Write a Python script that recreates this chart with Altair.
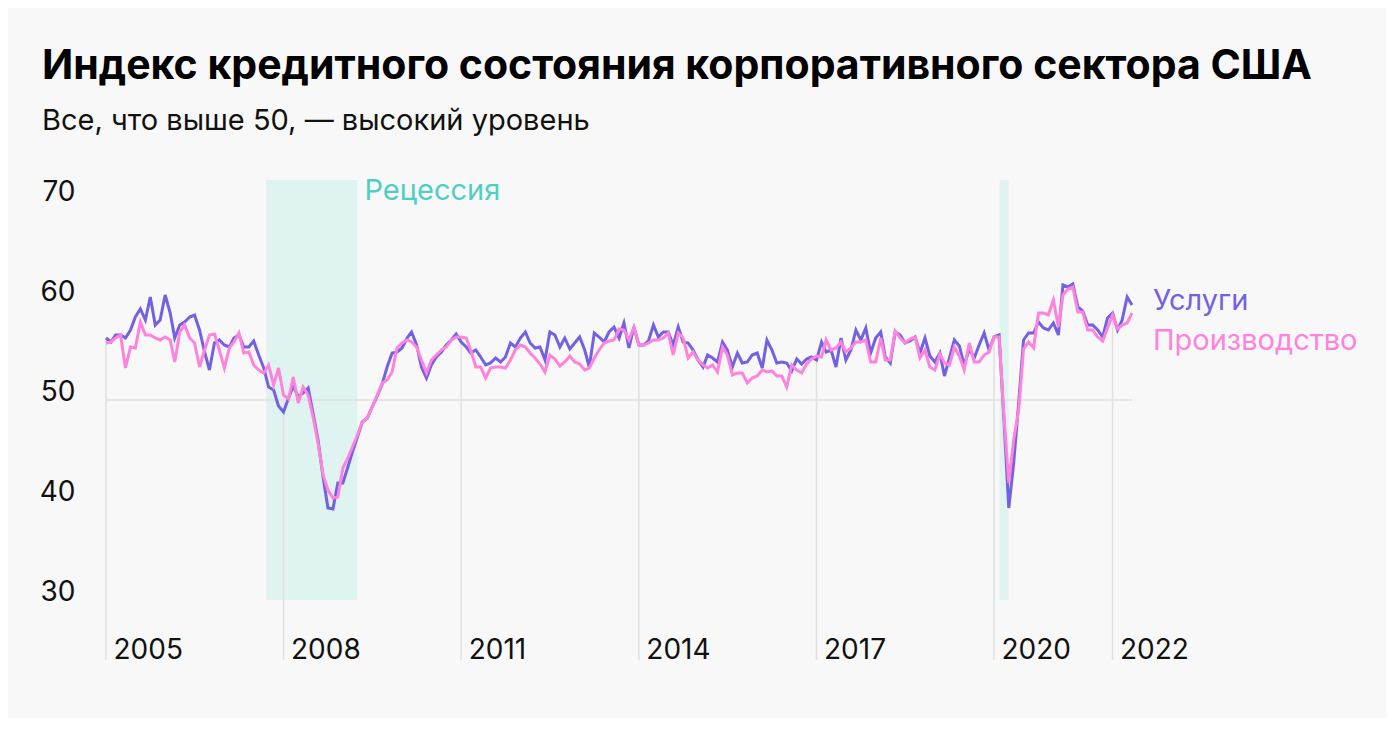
import altair as alt
import pandas as pd

# ---- data (monthly, Jan 2005 .. May 2022) ----
services = [
    56.2, 55.8, 56.5, 56.5, 56.2, 57.0, 58.3, 59.1, 58.0, 60.3, 57.5, 58.0,  # 2005
    60.5, 58.7, 56.2, 57.5, 57.8, 58.3, 58.5, 57.0, 54.8, 53.0, 55.7, 56.0,  # 2006
    55.5, 55.3, 56.2, 56.5, 55.3, 55.3, 55.9, 54.5, 53.2, 51.3, 51.0, 49.4,  # 2007
    48.8, 50.2, 51.4, 50.3, 50.7, 51.2, 48.7, 46.0, 42.3, 39.2, 39.1, 41.7,  # 2008
    41.7, 43.3, 44.8, 46.3, 47.8, 48.2, 49.3, 50.4, 51.6, 53.3, 54.7, 54.8,  # 2009
    55.2, 56.2, 56.8, 55.5, 53.3, 52.2, 53.5, 54.3, 54.8, 55.5, 56.0, 56.6,  # 2010
    55.8, 55.3, 54.7, 55.0, 54.3, 53.5, 53.7, 54.2, 53.8, 54.3, 55.7, 55.3,  # 2011
    56.2, 56.8, 55.7, 55.2, 55.3, 54.0, 56.8, 56.5, 55.3, 56.2, 55.1, 55.7,  # 2012
    56.3, 55.0, 53.3, 56.7, 56.3, 55.8, 56.8, 57.3, 56.2, 57.7, 55.2, 57.3,  # 2013
    55.5, 55.5, 55.9, 57.5, 56.3, 56.8, 56.8, 55.5, 57.3, 55.8, 55.7, 55.0,  # 2014
    54.0, 53.3, 54.5, 54.2, 53.8, 55.8, 55.0, 53.3, 54.7, 53.7, 53.8, 54.5,  # 2015
    54.7, 53.2, 56.0, 55.0, 53.7, 53.8, 53.7, 52.9, 54.1, 53.6, 54.1, 54.3,  # 2016
    54.0, 55.8, 54.8, 55.0, 53.3, 56.2, 54.0, 55.0, 57.0, 56.0, 57.2, 54.7,  # 2017
    56.2, 56.8, 54.3, 53.7, 56.8, 56.5, 55.7, 55.9, 56.3, 54.7, 56.2, 54.4,  # 2018
    53.8, 54.7, 52.4, 54.2, 56.0, 55.4, 53.5, 55.1, 54.2, 55.5, 56.7, 55.0,  # 2019
    56.3, 56.5, 48.3, 39.2, 43.7, 49.7, 56.0, 56.7, 56.7, 57.8, 57.2, 57.0,  # 2020
    57.7, 56.5, 61.5, 61.3, 61.6, 59.3, 58.9, 57.5, 57.5, 57.0, 56.3, 58.2,  # 2021
    58.7, 57.0, 58.0, 60.3, 59.5,                                            # 2022
]
manufacturing = [
    55.7, 55.8, 56.2, 56.5, 53.2, 55.3, 55.2, 57.8, 56.5, 56.5, 56.2, 56.0,  # 2005
    56.3, 56.0, 53.8, 56.8, 57.5, 56.2, 55.7, 53.3, 55.0, 56.5, 56.6, 55.0,  # 2006
    53.2, 55.2, 55.8, 56.7, 54.7, 54.8, 53.5, 53.0, 52.7, 53.5, 51.5, 53.2,  # 2007
    50.5, 50.1, 52.3, 49.7, 51.3, 50.5, 48.3, 45.7, 42.5, 41.0, 40.2, 40.3,  # 2008
    43.2, 44.2, 45.3, 46.5, 47.8, 48.2, 49.3, 50.5, 51.7, 52.0, 52.8, 55.2,  # 2009
    55.7, 56.0, 55.8, 55.3, 54.0, 52.7, 54.0, 54.5, 55.0, 55.3, 56.0, 56.3,  # 2010
    56.3, 56.2, 55.0, 53.3, 53.3, 52.2, 53.2, 53.3, 53.3, 53.2, 54.0, 55.0,  # 2011
    55.5, 55.3, 54.7, 54.2, 53.6, 52.8, 54.5, 54.1, 53.4, 53.8, 54.4, 53.8,  # 2012
    53.6, 53.0, 53.2, 54.2, 55.0, 55.7, 55.9, 56.0, 57.1, 57.0, 56.0, 57.3,  # 2013
    55.5, 55.5, 55.7, 56.0, 56.0, 56.2, 56.7, 54.5, 56.7, 56.2, 54.2, 54.8,  # 2014
    54.0, 53.5, 53.2, 53.5, 52.8, 55.3, 54.5, 52.5, 52.7, 52.7, 51.7, 52.2,  # 2015
    52.4, 53.0, 52.8, 52.9, 52.4, 52.4, 51.3, 53.5, 53.0, 52.7, 53.6, 54.1,  # 2016
    54.4, 54.3, 56.0, 55.0, 55.2, 55.8, 54.8, 55.2, 55.8, 55.8, 56.0, 53.8,  # 2017
    53.8, 56.2, 54.0, 54.0, 56.9, 56.2, 55.7, 56.1, 56.3, 54.2, 55.0, 53.3,  # 2018
    53.0, 54.6, 53.7, 53.5, 55.3, 54.4, 53.0, 55.7, 53.8, 53.8, 54.5, 54.8,  # 2019
    56.3, 56.3, 48.7, 41.7, 46.0, 49.0, 55.1, 55.8, 55.2, 58.7, 58.7, 58.5,  # 2020
    60.0, 57.3, 60.5, 61.1, 61.3, 58.8, 58.8, 57.0, 57.0, 56.3, 55.9, 57.2,  # 2021
    58.5, 57.1, 57.5, 57.7, 58.7,                                            # 2022
]
series_names = ["Услуги", "Производство"]
tick_years = [2005, 2008, 2011, 2014, 2017, 2020, 2022]
y_ticks = [30, 40, 50, 60, 70]
recession_start = ["2007-09-15", "2020-02-05"]
recession_end = ["2009-04-01", "2020-03-30"]

assert len(services) == len(manufacturing) == 209

dates = pd.date_range("2005-01-01", periods=len(services), freq="MS").strftime("%Y-%m-%d")
wide = pd.DataFrame({"date": dates, series_names[0]: services, series_names[1]: manufacturing})
long = wide.melt(id_vars="date", var_name="series", value_name="value")

drop_idx = [(y - 2005) * 12 for y in tick_years]
drops = pd.DataFrame({
    "date": [dates[i] for i in drop_idx],
    "top": [max(services[i], manufacturing[i]) for i in drop_idx],
})
bands = pd.DataFrame({"start": recession_start, "end": recession_end})
ends = pd.DataFrame({
    "date": [dates[-1], dates[-1]],
    "value": [services[-1], manufacturing[-1]],
    "series": series_names,
})

PURPLE = "#7361e4"
PINK = "#ff82dc"
TEAL = "#4fcfc4"
GRID = "#e0e0e0"

x_scale = alt.Scale(
    type="utc",
    domain=[alt.DateTime(year=2005, month=1, date=1, utc=True),
            alt.DateTime(year=2022, month=5, date=1, utc=True)],
)
y_scale = alt.Scale(domain=[24, 72], nice=False, zero=False)

x_axis = alt.Axis(
    values=[alt.DateTime(year=y, month=1, date=1, utc=True) for y in tick_years],
    format="%Y", title=None, domain=False, ticks=False, grid=False,
    labelAlign="left", labelBaseline="alphabetic", labelPadding=-2, labelOffset=7,
    labelFlush=False, labelOverlap=False,
    labelFont="Inter", labelFontSize=28, labelColor="#111111",
)
y_axis = alt.Axis(
    values=y_ticks, title=None, domain=False, ticks=False, grid=False,
    labelBaseline="alphabetic", labelAlign="right", labelPadding=31,
    labelFont="Inter", labelFontSize=28, labelColor="#111111",
)

band_layer = alt.Chart(bands).mark_rect(color="#dff3f0").encode(
    x=alt.X("start:T", scale=x_scale, axis=x_axis),
    x2="end:T",
    y=alt.Y(datum=30, scale=y_scale, axis=y_axis),
    y2=alt.Y2(datum=72),
)

recession_label = alt.Chart(bands.head(1)).mark_text(
    text="Рецессия", align="left", baseline="alphabetic", dx=7,
    font="Inter", fontSize=29, color=TEAL,
).encode(
    x=alt.X("end:T", scale=x_scale),
    y=alt.Y(datum=70, scale=y_scale),
)

fifty = alt.Chart(bands.head(1)).mark_rule(color=GRID, strokeWidth=1.5).encode(
    y=alt.Y(datum=50, scale=y_scale),
)

drop_layer = alt.Chart(drops).mark_rule(color=GRID, strokeWidth=1.5).encode(
    x=alt.X("date:T", scale=x_scale),
    y=alt.Y("top:Q", scale=y_scale),
    y2=alt.Y2(datum=24),
)

def line_for(name, color):
    return alt.Chart(long).transform_filter(alt.datum.series == name).mark_line(
        color=color, strokeWidth=3
    ).encode(
        x=alt.X("date:T", scale=x_scale),
        y=alt.Y("value:Q", scale=y_scale),
    )

def end_label(name, color, dy):
    return alt.Chart(ends).transform_filter(alt.datum.series == name).mark_text(
        align="left", baseline="alphabetic", dx=21, dy=dy,
        font="Inter", fontSize=29, color=color,
    ).encode(
        x=alt.X("date:T", scale=x_scale),
        y=alt.Y("value:Q", scale=y_scale),
        text="series:N",
    )

chart = alt.layer(
    band_layer, fifty, drop_layer, recession_label,
    line_for("Услуги", PURPLE), line_for("Производство", PINK),
    end_label("Услуги", PURPLE, 5), end_label("Производство", PINK, 37),
).properties(
    width=1026, height=480,
    padding={"left": 98, "top": 172, "right": 254, "bottom": 58},
    autosize=alt.AutoSizeParams(type="none"),
    background="#f8f8f8",
    title=alt.Title(
        text="Индекс кредитного состояния корпоративного сектора США",
        subtitle="Все, что выше 50, — высокий уровень",
        anchor="start", frame="group", dx=-64, offset=40,
        font="Inter", fontSize=41, fontWeight="bold", color="#000000",
        subtitleFont="Inter", subtitleFontSize=29, subtitleColor="#111111",
        subtitlePadding=19,
    ),
).configure_view(stroke=None)

chart.save("out.html", embed_options={"renderer": "svg", "actions": False})
